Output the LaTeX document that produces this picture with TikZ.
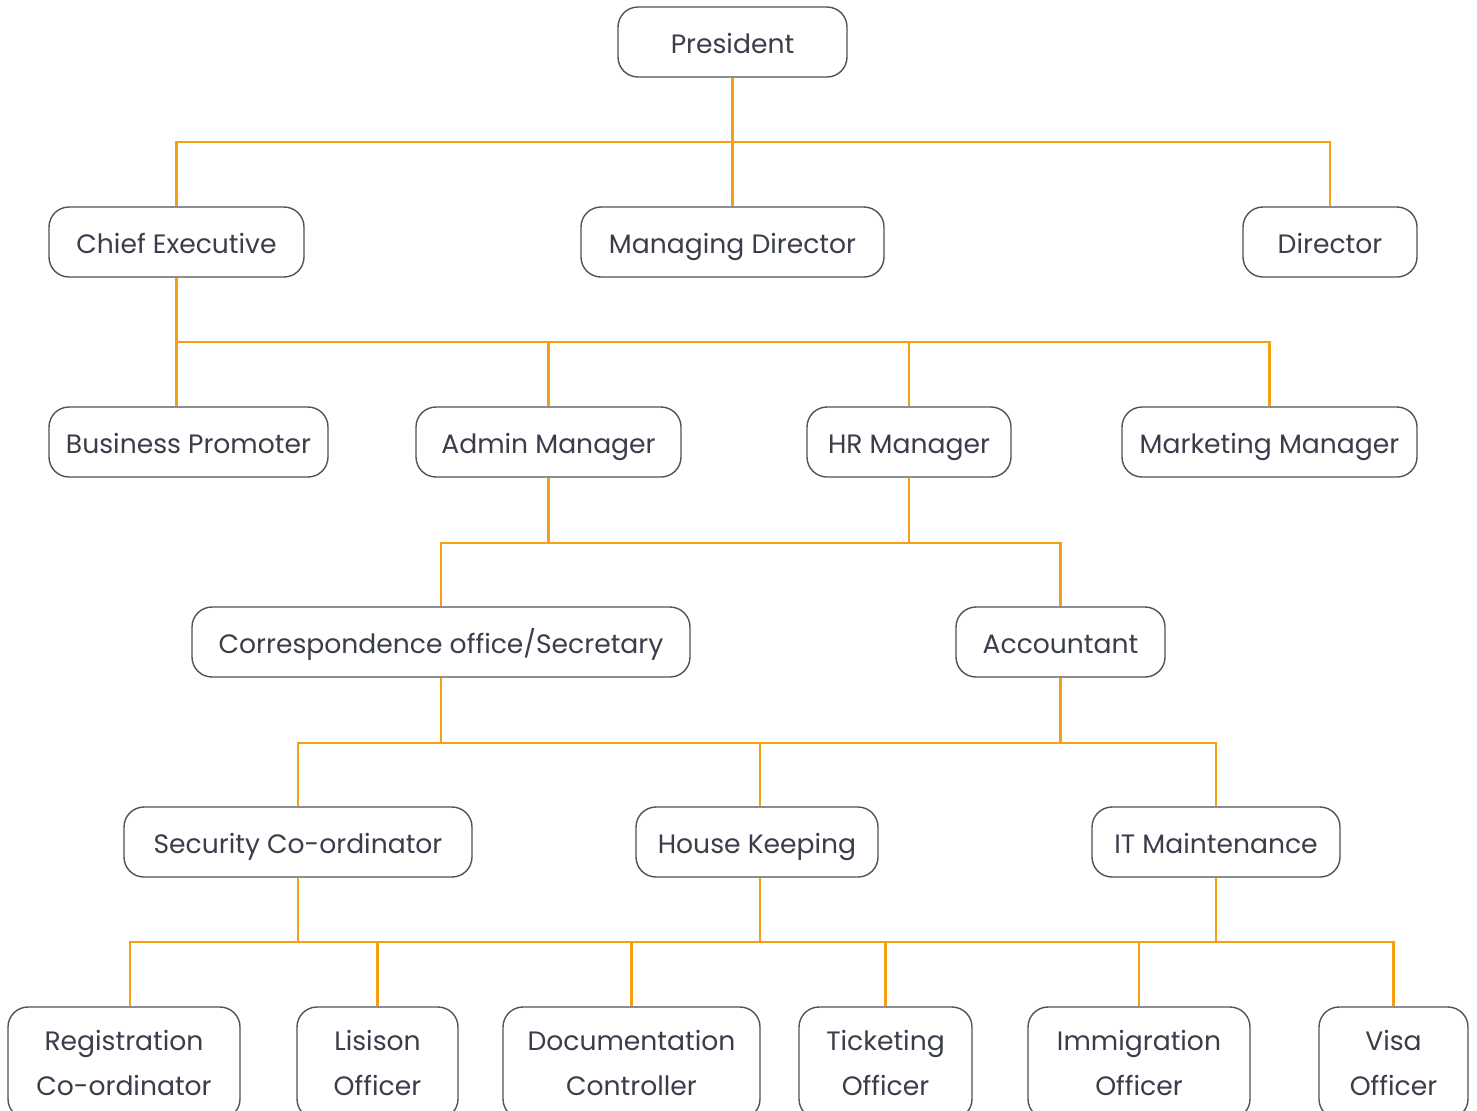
\documentclass[tikz,border=0pt]{standalone}
\usepackage{fontspec}
\setmainfont{Poppins}
\usetikzlibrary{positioning}
\definecolor{linkorange}{RGB}{245,160,18}
\definecolor{boxgray}{RGB}{80,82,92}
\definecolor{textgray}{RGB}{58,61,74}

\begin{document}
\begin{tikzpicture}[
    x=0.5pt, y=-0.5pt,
    font=\fontsize{13.3}{22.5}\selectfont,
    post/.style={
		rectangle,
		rounded corners=10pt,
		draw=boxgray,
		line width=0.7pt,
		text=textgray,
		align=center,
		inner sep=0pt,
		text height=12pt,
		text depth=1pt,
		minimum height=35pt,
		fill=white
	},
	tall/.style={
		text height={},
		text depth={},
		minimum height=56pt
	},
	link/.style={
		draw=linkorange,
		line width=1.45pt
	}
  ]
  \useasboundingbox (0,0) rectangle (1477,1110);
  \clip (0,0) rectangle (1477,1110);

    % We start by placing the blocks
  \node [post, minimum width=114.5pt] (pres) at (732.5,42) {President};

  \node [post, minimum width=127.5pt] (chief) at (176.5,242) {Chief Executive};
  \node [post, minimum width=151.5pt] (md) at (732.5,242) {Managing Director};
  \node [post, minimum width=87pt] (dir) at (1330,242) {Director};

  \node [post, minimum width=139.5pt] (busprom) at (188.5,442) {Business Promoter};
  \node [post, minimum width=132.5pt] (admin) at (548.5,442) {Admin Manager};
  \node [post, minimum width=102pt] (hr) at (909,442) {HR Manager};
  \node [post, minimum width=147.5pt] (mkt) at (1269.5,442) {Marketing Manager};

  \node [post, minimum width=249pt] (corr) at (441,642) {Correspondence office/Secretary};
  \node [post, minimum width=104.5pt] (acc) at (1060.5,642) {Accountant};

  \node [post, minimum width=174pt] (secur) at (298,842) {Security Co-ordinator};
  \node [post, minimum width=121pt] (house) at (757,842) {House Keeping};
  \node [post, minimum width=124pt] (itm) at (1216,842) {IT Maintenance};

  \node [post, tall, minimum width=116pt] (regis) at (124,1063) {Registration\\Co-ordinator};
  \node [post, tall, minimum width=80.5pt] (liais) at (377.5,1063) {Lisison\\Officer};
  \node [post, tall, minimum width=128.5pt] (docu) at (631.5,1063) {Documentation\\Controller};
  \node [post, tall, minimum width=86.5pt] (ticket) at (885.5,1063) {Ticketing\\Officer};
  \node [post, tall, minimum width=111pt] (immig) at (1139,1063) {Immigration\\Officer};
  \node [post, tall, minimum width=74.5pt] (visa) at (1393.5,1063) {Visa\\Officer};

  % the bus lines
  \coordinate (bus1) at (732.5,142);
  \coordinate (bus2) at (176.5,342);
  \coordinate (bus3) at (548.5,543);
  \coordinate (bus4) at (441,743);
  \coordinate (bus5) at (298,942);
  \coordinate (hkdrop) at (760,842);

  \draw [link] (pres.south) -- (bus1);
  \draw [link] (chief.north) -- (chief |- bus1) -- (dir |- bus1) -- (dir.north);
  \draw [link] (bus1) -- (md.north);

  \draw [link] (chief.south) -- (bus2) -- (mkt |- bus2) -- (mkt.north);
  \draw [link] (bus2) -- (chief |- busprom.north);
  \draw [link] (admin |- bus2) -- (admin.north);
  \draw [link] (hr |- bus2) -- (hr.north);

  \draw [link] (admin.south) -- (bus3);
  \draw [link] (hr.south) -- (hr |- bus3);
  \draw [link] (corr.north) -- (corr |- bus3) -- (acc |- bus3) -- (acc.north);

  \draw [link] (corr.south) -- (bus4);
  \draw [link] (acc.south) -- (acc |- bus4);
  \draw [link] (secur.north) -- (secur |- bus4) -- (itm |- bus4) -- (itm.north);
  \draw [link] (hkdrop |- bus4) -- (hkdrop |- house.north);

  \draw [link] (secur.south) -- (bus5);
  \draw [link] (hkdrop |- house.south) -- (hkdrop |- bus5);
  \draw [link] (itm.south) -- (itm |- bus5);
  \draw [link] ([xshift=3pt]regis.north) -- ([xshift=3pt]regis.north |- bus5) -- (visa |- bus5) -- (visa.north);
  \foreach \n in {liais,docu,ticket,immig}
    \draw [link] (\n |- bus5) -- (\n.north);

\end{tikzpicture}
\end{document}
